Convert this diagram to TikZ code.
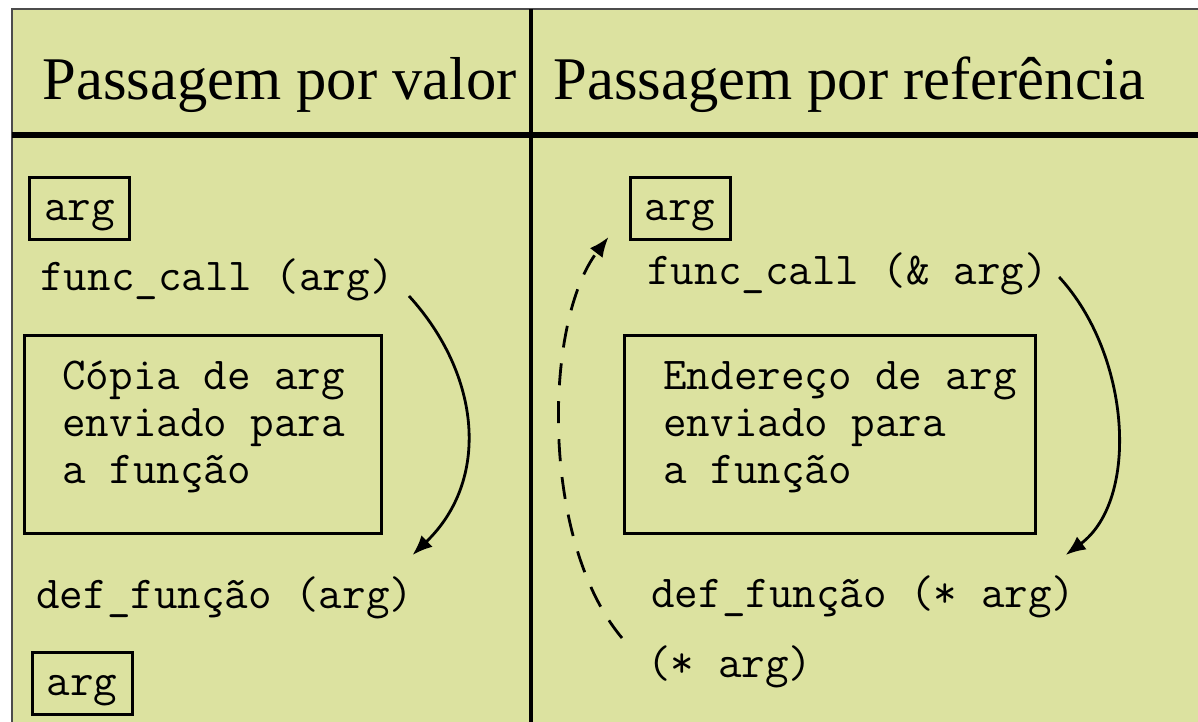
\documentclass[tikz,border=0pt]{standalone}
\usepackage{fontspec}
\setmainfont{Liberation Serif}
\usetikzlibrary{arrows.meta}

\definecolor{bggreen}{RGB}{220,226,160}
\newcommand{\titlefont}{\fontsize{30.3}{36}\selectfont}
\newcommand{\codefont}{\ttfamily\fontsize{22.86}{23.5}\selectfont}

\begin{document}
\begin{tikzpicture}[
    x=0.5pt, y=-0.5pt,
    titletext/.style={anchor=base west, inner sep=0pt, font=\titlefont},
    codetext/.style={anchor=base west, inner sep=0pt, font=\codefont},
    argbox/.style={draw, line width=1.5pt, minimum width=50pt, minimum height=31pt, inner sep=0pt,
        text height=12pt, text depth=0.5pt, font=\codefont},
    bigbox/.style={draw, line width=1.5pt, inner sep=0pt},
    flow/.style={-{Latex[length=10pt,width=8pt]}, line width=1.4pt},
    back/.style={flow, dash pattern=on 11pt off 8pt}
]
    \useasboundingbox (0,0) rectangle (1198,722);
    \fill[bggreen] (12,9) rectangle (1198,722);
    \draw[line width=0.7pt, black!70] (12,722) -- (12,9) -- (1198,9);
    \draw[line width=2pt] (531,9) -- (531,722);
    \draw[line width=2.8pt] (12,135) -- (1198,135);

    % titles
    \node[titletext] (titleL) at (42,99) {Passagem por valor};
    \node[titletext] (titleR) at (553,99) {Passagem por referência};

    % by value
    \node[argbox] (argL) at (79.5,208.5) {arg};
    \node[codetext] (fcallL) at (40,290) {func\_call (arg)};
    \node[bigbox, minimum width=178.5pt, minimum height=99pt] (boxL) at (203,434.5) {};
    \node[codetext, align=left] (copyL) at (62,483) {Cópia de arg\\enviado para\\a função};
    \node[codetext] (defL) at (36,608) {def\_função (arg)};
    \node[argbox] (argL2) at (82,683.5) {arg};

    \draw[flow] ([shift={(15,6)}]fcallL.base east) .. controls +(72,79) and +(78,-75) .. ([shift={(-1,-53)}]defL.base east);

    % by reference
    \node[argbox] (argR) at (680,208.5) {arg};
    \node[codetext] (fcallR) at (647,284) {func\_call (\& arg)};
    \node[bigbox, minimum width=205.5pt, minimum height=99pt] (boxR) at (830,434.5) {};
    \node[codetext, align=left] (addrR) at (663,483) {Endereço de arg\\enviado para\\a função};
    \node[codetext] (defR) at (651,607) {def\_função (* arg)};
    \node[codetext] (starR) at (647,677) {(* arg)};

    \draw[flow] ([shift={(11,-7)}]fcallR.base east) .. controls +(72,78) and +(74,-55) .. ([shift={(-10,-52)}]defR.base east);
    \draw[back] ([shift={(-25,-39)}]starR.base west) .. controls +(-82,-98) and +(-65,85) .. ([shift={(-20,-4)}]argR.south west);
\end{tikzpicture}
\end{document}
